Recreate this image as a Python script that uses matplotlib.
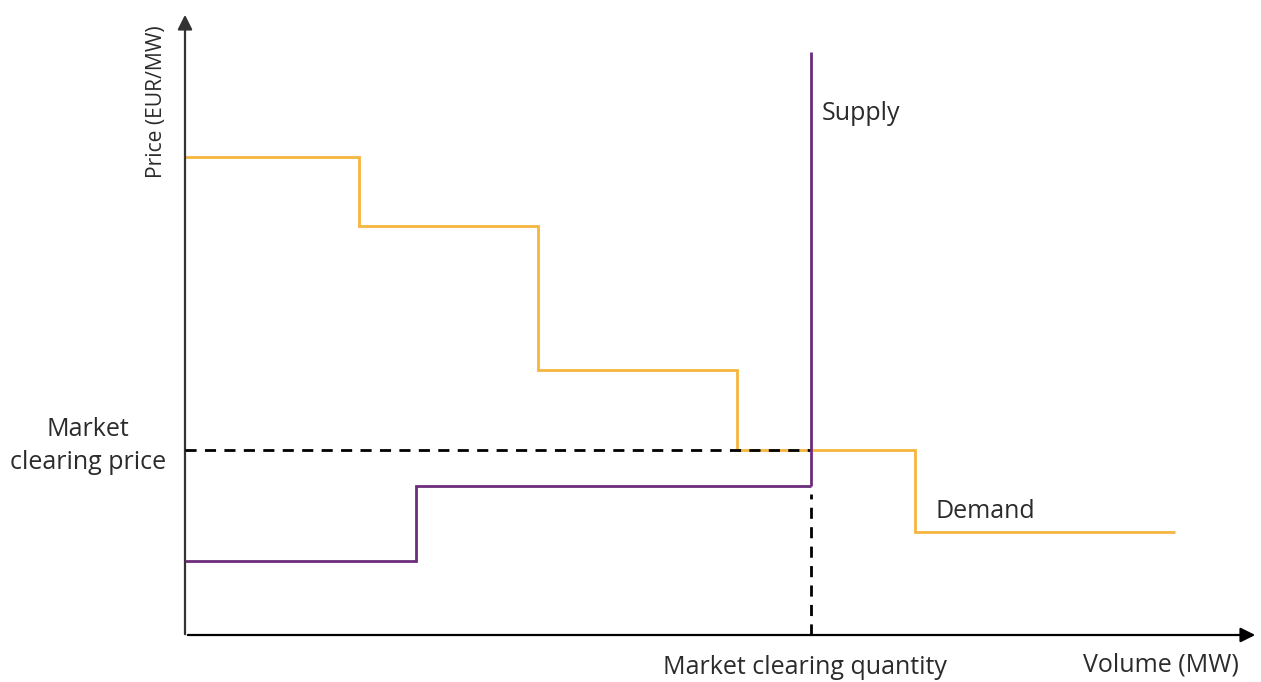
import matplotlib
matplotlib.use('Agg')
import matplotlib.pyplot as plt

# step curves, volume in MW-ish units, price in EUR/MW-ish units
demand_edges = [0, 17.4, 35.3, 55.2, 73.0, 99.0]
demand_prices = [47.8, 40.9, 26.5, 18.5, 10.3]

supply_edges = [0, 23.1, 62.6]
supply_prices = [7.4, 14.9]
supply_top = 58.3

clearing_qty = 62.6
clearing_price = 18.5

plt.rcParams['font.family'] = ['Open Sans', 'DejaVu Sans']
text_color = '#2b2b2b'

fig = plt.figure(figsize=(12.61, 6.82), dpi=100)
ax = fig.add_axes([0, 0, 1, 1])
ax.set_xlim(-18.5, 107.6)
ax.set_ylim(-4.7, 63.5)
ax.axis('off')

# axes with arrows
ax.annotate('', xy=(107.3, 0), xytext=(0, 0),
            arrowprops=dict(arrowstyle='-|>', color='black', lw=1.6, mutation_scale=22))
ax.annotate('', xy=(0, 62.3), xytext=(0, -0.2),
            arrowprops=dict(arrowstyle='-|>', color='#333333', lw=1.6, mutation_scale=22))

# demand curve
ax.stairs(demand_prices, demand_edges, baseline=None, color='#F4B63F', lw=2.0)

# supply curve + final vertical jump
ax.stairs(supply_prices, supply_edges, baseline=None, color='#6B2D7B', lw=2.0, zorder=4)
ax.plot([supply_edges[-1], supply_edges[-1]], [supply_prices[-1], supply_top],
        color='#6B2D7B', lw=2.0, solid_capstyle='butt', zorder=4)

# clearing lines
ax.plot([0, clearing_qty], [clearing_price, clearing_price], color='black',
        lw=2.0, ls=(0, (4, 3)), zorder=3)
ax.plot([clearing_qty, clearing_qty], [0, supply_prices[-1] - 0.8], color='black',
        lw=2.0, ls=(0, (4, 3)), zorder=3)

big = 18
ax.text(63.7, 52.2, 'Supply', fontsize=big, color=text_color, va='center', ha='left')
ax.text(75.1, 12.3, 'Demand', fontsize=big, color=text_color, va='center', ha='left')
ax.text(-9.7, 18.9, 'Market\nclearing price', fontsize=big, color=text_color,
        va='center', ha='center', linespacing=1.4)
ax.text(62.0, -3.2, 'Market clearing quantity', fontsize=big, color=text_color,
        va='center', ha='center')
ax.text(97.6, -3.0, 'Volume (MW)', fontsize=big, color=text_color, va='center', ha='center')
ax.text(-2.8, 53.3, 'Price (EUR/MW)', fontsize=15.2, color=text_color, va='center',
        ha='center', rotation=90)

fig.savefig('out.png', dpi=100)
